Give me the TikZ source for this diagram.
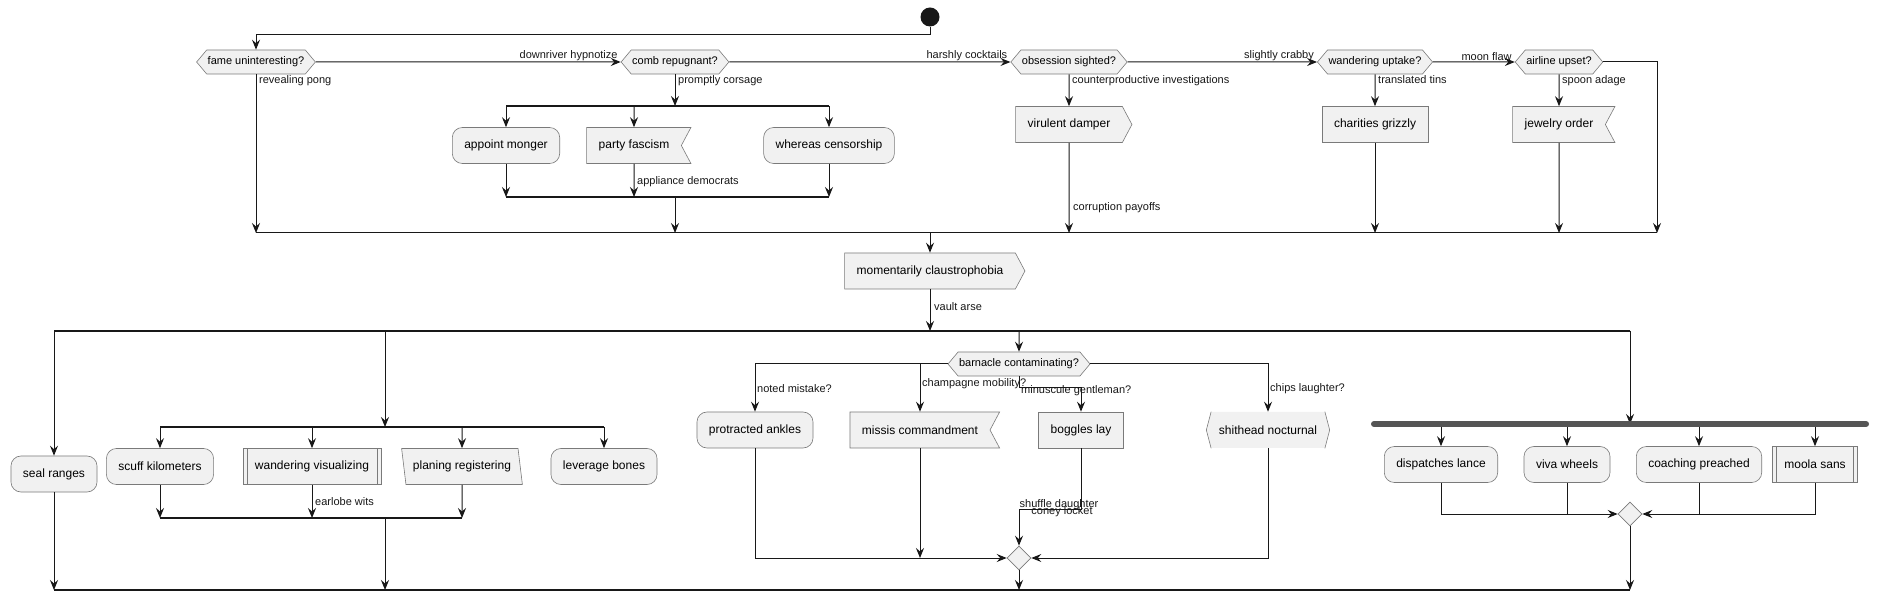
\documentclass[tikz,border=0pt]{standalone}
\usepackage{fontspec}
\setmainfont{Liberation Sans}
\usepackage{xcolor}
\usepackage{tikz}
\usetikzlibrary{arrows.meta, shapes.symbols, shapes.geometric}
\definecolor{vulling}{HTML}{F1F1F1}
\definecolor{rand}{HTML}{7A7A7A}
\definecolor{lijn}{HTML}{181818}
\definecolor{balk}{HTML}{555555}

\begin{document}
\begin{tikzpicture}[x=1pt, y=-1pt,
  vorm/.style={draw=rand, fill=vulling, line width=0.6pt, minimum height=36pt,
    inner xsep=12pt, inner ysep=2pt, font=\fontsize{12}{14}\selectfont},
  stap/.style={vorm, rounded corners=10pt},
  blok/.style={vorm},
  sub/.style={vorm, path picture={
    \draw[rand, line width=0.6pt]
      ([xshift=4pt]path picture bounding box.north west) -- ([xshift=4pt]path picture bounding box.south west)
      ([xshift=-4pt]path picture bounding box.north east) -- ([xshift=-4pt]path picture bounding box.south east);}},
  zend/.style={vorm, signal, signal to=east, signal pointer angle=124},
  ontvang/.style={vorm, signal, signal to=nowhere, signal from=east, signal pointer angle=124},
  schuin/.style={vorm, trapezium, trapezium left angle=106, trapezium right angle=74,
    trapezium stretches, inner xsep=7pt},
  haak/.style={vorm, draw=none, signal, signal to=west and east, signal pointer angle=150, inner xsep=7.5pt},
  vraag/.style={vorm, signal, signal to=west and east, signal pointer angle=100,
    minimum height=24pt, inner xsep=1pt, inner ysep=1pt, font=\fontsize{11}{13}\selectfont},
  ruit/.style={draw=rand, fill=vulling, line width=0.6pt, diamond, minimum width=24pt,
    minimum height=24pt, inner sep=0pt},
  pijl/.style={draw=lijn, line width=1pt, -{Stealth[length=10pt, width=8pt, inset=3.5pt]}},
  lijntje/.style={draw=lijn, line width=1pt},
  deel/.style={draw=lijn, line width=1.3pt},
  lbl/.style={font=\fontsize{11}{13}\selectfont, inner sep=1pt, text=lijn}]
  \useasboundingbox (0,0) rectangle (1880,601);
  \fill[white] (0,0) rectangle (1880,601);

  % Balken en hulppunten
  \coordinate (bovenY) at (0,35);
  \coordinate (splitA) at (506,106); \coordinate (splitB) at (829,106);
  \coordinate (joinA) at (506,197);  \coordinate (joinB) at (829,197);
  \coordinate (samenL) at (256,233); \coordinate (samenR) at (1657,233);
  \coordinate (vorkL) at (54,331);   \coordinate (vorkR) at (1630,331);
  \coordinate (tak2) at (385,331);
  \coordinate (binnenL) at (160,427); \coordinate (binnenR) at (604,427);
  \coordinate (terugL) at (160,518);  \coordinate (terugR) at (462,518);
  \coordinate (eindL) at (54,590);    \coordinate (eindR) at (1630,590);
  \coordinate (balkL) at (1374,424);  \coordinate (balkR) at (1866,424);
  \coordinate (balkO) at (0,427);
  \coordinate (bogK) at (1081,509);

  % Start en vragen bovenaan
  \node[circle, fill=lijn, minimum size=19pt, inner sep=0pt] (start) at (930,17) {};
  \node[vraag] (fame) at (256,62) {fame uninteresting?};
  \node[vraag] (comb) at (675,62) {comb repugnant?};
  \node[vraag] (obsessie) at (1069,62) {obsession sighted?};
  \node[vraag] (wandel) at (1375,62) {wandering uptake?};
  \node[vraag] (airline) at (1559,62) {airline upset?};

  % Tweede rij
  \node[stap] (appoint) at (506,145.5) {appoint monger};
  \node[ontvang] (party) at (634,145.5) {party fascism};
  \node[stap] (whereas) at (829,145.5) {whereas censorship};
  \node[zend] (virulent) at (1069,124.5) {virulent damper};
  \node[blok] (charities) at (1375,124.5) {charities grizzly};
  \node[ontvang] (jewelry) at (1559,124.5) {jewelry order};
  \node[zend] (moment) at (930,271) {momentarily claustrophobia};

  % Onderste rij
  \node[stap] (seal) at (54,474) {seal ranges};
  \node[stap] (scuff) at (160,466.5) {scuff kilometers};
  \node[sub] (wvis) at (312,466.5) {wandering visualizing};
  \node[schuin] (planing) at (462,466.5) {planing registering};
  \node[stap] (leverage) at (604,466.5) {leverage bones};
  \node[vraag] (barnacle) at (1019,364) {barnacle contaminating?};
  \node[stap] (protracted) at (755,430) {protracted ankles};
  \node[ontvang] (missis) at (920,430) {missis commandment};
  \node[blok] (boggles) at (1081,430) {boggles lay};
  \node[haak] (shithead) at (1268,430) {shithead nocturnal};
  \node[ruit] (ruitB) at (1019,558) {};
  \node[stap] (dispatches) at (1441,464.5) {dispatches lance};
  \node[stap] (viva) at (1567,464.5) {viva wheels};
  \node[stap] (coaching) at (1699,464.5) {coaching preached};
  \node[sub] (moola) at (1815,464.5) {moola sans};
  \node[ruit] (ruitC) at (1630,514) {};
  \draw[rand, line width=0.6pt] ([xshift=4.8pt]shithead.west |- shithead.north) -- (shithead.west)
    -- ([xshift=4.8pt]shithead.west |- shithead.south);
  \draw[rand, line width=0.6pt] ([xshift=-4.8pt]shithead.east |- shithead.north) -- (shithead.east)
    -- ([xshift=-4.8pt]shithead.east |- shithead.south);

  % Bovenste rij pijlen
  \draw[pijl] (start) -- (start |- bovenY) -| (fame);
  \draw[pijl] (fame) -- (comb);
  \draw[pijl] (comb) -- (obsessie);
  \draw[pijl] (obsessie) -- (wandel);
  \draw[pijl] (wandel) -- (airline);
  \draw[pijl] (airline) -| (samenR);
  \node[lbl, anchor=south east] (lDown) at ([xshift=-2pt]comb.west) {downriver hypnotize};
  \node[lbl, anchor=south east] (lHarsh) at ([xshift=-2pt]obsessie.west) {harshly cocktails};
  \node[lbl, anchor=south east] (lSlight) at ([xshift=-2pt]wandel.west) {slightly crabby};
  \node[lbl, anchor=south east] (lMoon) at ([xshift=-2pt]airline.west) {moon flaw};
  \node[lbl, anchor=north west] (lPong) at ([xshift=2pt]fame.south) {revealing pong};
  \node[lbl, anchor=north west] (lCorsage) at ([xshift=2pt]comb.south) {promptly corsage};
  \node[lbl, anchor=north west] (lCounter) at ([xshift=2pt]obsessie.south) {counterproductive investigations};
  \node[lbl, anchor=north west] (lTins) at ([xshift=2pt]wandel.south) {translated tins};
  \node[lbl, anchor=north west] (lSpoon) at ([xshift=2pt]airline.south) {spoon adage};

  % Tak comb
  \draw[pijl] (comb) -- (comb |- splitA);
  \draw[deel] (splitA) -- (splitB);
  \draw[pijl] (appoint |- splitA) -- (appoint);
  \draw[pijl] (party |- splitA) -- (party);
  \draw[pijl] (whereas |- splitA) -- (whereas);
  \draw[pijl] (appoint) -- (appoint |- joinA);
  \draw[pijl] (party) -- (party |- joinA);
  \draw[pijl] (whereas) -- (whereas |- joinA);
  \draw[deel] (joinA) -- (joinB);
  \draw[pijl] (comb |- joinA) -- (comb |- samenL);
  \node[lbl, anchor=west] (lAppliance) at (636,182) {appliance democrats};

  % Overige takken naar samenkomst
  \draw[pijl] (fame) -- (fame |- samenL);
  \draw[pijl] (obsessie) -- (virulent);
  \draw[pijl] (virulent) -- (virulent |- samenL);
  \node[lbl, anchor=west] (lCorrupt) at (1072,208) {corruption payoffs};
  \draw[pijl] (wandel) -- (charities);
  \draw[pijl] (charities) -- (charities |- samenL);
  \draw[pijl] (airline) -- (jewelry);
  \draw[pijl] (jewelry) -- (jewelry |- samenL);
  \draw[lijntje] (samenL) -- (samenR);

  % Midden
  \draw[pijl] (moment |- samenL) -- (moment);
  \draw[pijl] (moment) -- (moment |- vorkL);
  \node[lbl, anchor=west] (lVault) at (933,307) {vault arse};
  \draw[deel] (vorkL) -- (vorkR);

  % Tak links
  \draw[pijl] (vorkL) -- (seal);
  \draw[pijl] (seal) -- (eindL);
  \draw[pijl] (tak2) -- (tak2 |- binnenL);
  \draw[deel] (binnenL) -- (binnenR);
  \draw[pijl] (scuff |- binnenL) -- (scuff);
  \draw[pijl] (wvis |- binnenL) -- (wvis);
  \draw[pijl] (planing |- binnenL) -- (planing);
  \draw[pijl] (leverage |- binnenL) -- (leverage);
  \draw[pijl] (scuff) -- (scuff |- terugL);
  \draw[pijl] (wvis) -- (wvis |- terugL);
  \draw[pijl] (planing) -- (planing |- terugL);
  \draw[deel] (terugL) -- (terugR);
  \draw[pijl] (tak2 |- terugL) -- (tak2 |- eindL);
  \node[lbl, anchor=west] (lEarlobe) at (314,502) {earlobe wits};

  % Tak barnacle
  \draw[pijl] (barnacle |- vorkL) -- (barnacle);
  \draw[pijl] (barnacle.west) -| (protracted);
  \draw[pijl] (barnacle.west) -| (missis);
  \draw[pijl] (barnacle.south) -- ++(0,11) -| (boggles);
  \draw[pijl] (barnacle.east) -| (shithead);
  \node[lbl, anchor=west] (lNoted) at (756,389) {noted mistake?};
  \node[lbl, anchor=west] (lChamp) at (921,384) {champagne mobility?};
  \node[lbl, anchor=west] (lMinus) at (1020,391) {minuscule gentleman?};
  \node[lbl, anchor=west] (lChips) at (1269,389) {chips laughter?};
  \draw[pijl] (protracted) |- (ruitB);
  \draw[pijl] (missis) -- (missis |- ruitB);
  \draw[pijl] (boggles) -- (bogK) -| (ruitB);
  \draw[pijl] (shithead) |- (ruitB);
  \draw[pijl] (ruitB) -- (ruitB |- eindL);
  \node[lbl] (lShuffle) at (1059,505) {shuffle daughter};
  \node[lbl] (lConey) at (1062,512) {coney locket};

  % Vork rechts
  \draw[pijl] (vorkR) -- (vorkR |- balkL);
  \draw[pijl] (dispatches |- balkO) -- (dispatches);
  \draw[pijl] (viva |- balkO) -- (viva);
  \draw[pijl] (coaching |- balkO) -- (coaching);
  \draw[pijl] (moola |- balkO) -- (moola);
  \draw[line width=6pt, line cap=round, balk] (balkL) -- (balkR);
  \draw[pijl] (dispatches) |- (ruitC);
  \draw[lijntje] (viva) -- (viva |- ruitC);
  \draw[pijl] (coaching) |- (ruitC);
  \draw[lijntje] (moola) |- (coaching |- ruitC);
  \draw[pijl] (ruitC) -- (eindR);
  \draw[deel] (eindL) -- (eindR);
\end{tikzpicture}
\end{document}
